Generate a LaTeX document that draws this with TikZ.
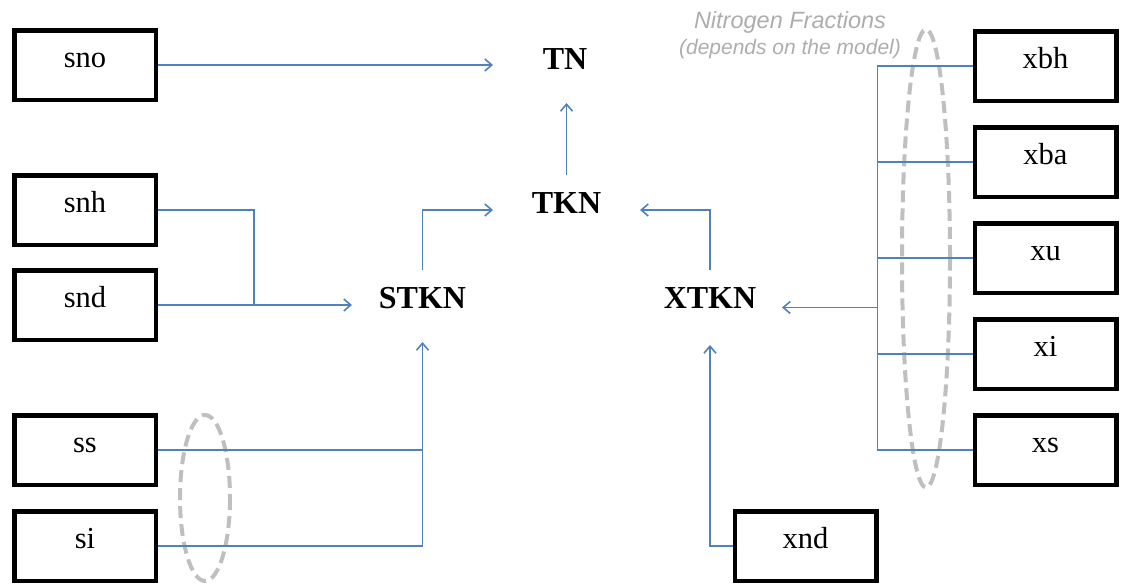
\documentclass[tikz,border=0pt]{standalone}
\usepackage{fontspec}
\setmainfont{Liberation Serif}
\newfontfamily\notefont{Liberation Sans}
\usetikzlibrary{arrows.meta}
\definecolor{linkblue}{HTML}{4F81BD}
\definecolor{ovalgray}{HTML}{BFBFBF}
\definecolor{notegray}{HTML}{ADADAD}
\tikzset{
  box/.style={draw=black, line width=4.5pt, fill=white, inner sep=0pt,
    minimum width=141.5pt, minimum height=69.5pt,
    text height=19pt, text depth=15pt,
    font=\fontsize{30.5}{34}\selectfont},
  var/.style={inner sep=0pt, outer sep=0pt, anchor=base,
    font=\fontsize{32}{36}\selectfont\bfseries},
  conn/.style={draw=linkblue, line width=1.6pt},
  arr/.style={conn, -{Straight Barb[length=7pt,width=12pt,line width=1.6pt]}},
  oval/.style={draw=ovalgray, line width=4pt, dash pattern=on 12pt off 6pt},
  note/.style={text=notegray, inner sep=0pt, font=\notefont\itshape}
}
\begin{document}
\begin{tikzpicture}[x=1pt, y=-1pt]
\useasboundingbox (0,0) rectangle (1122,584);

% dashed ovals grouping the fractions
\draw[oval] (205,498) ellipse [x radius=25, y radius=83];
\draw[oval] (926,258.5) ellipse [x radius=24, y radius=229];

\node[note, font=\notefont\itshape\fontsize{23.5}{26}\selectfont] (nf) at (790,22) {Nitrogen Fractions};
\node[note, font=\notefont\itshape\fontsize{21}{24}\selectfont] (nfm) at (790,49) {(depends on the model)};

% soluble components
\node[box] (sno) at (85,65)  {sno};
\node[box] (snh) at (85,210) {snh};
\node[box] (snd) at (85,305) {snd};
\node[box] (ss)  at (85,450) {ss};
\node[box] (si)  at (85,546) {si};

% particulate components
\node[box] (xbh) at (1045.5,66)  {xbh};
\node[box] (xba) at (1045.5,162) {xba};
\node[box] (xu)  at (1045.5,258) {xu};
\node[box] (xi)  at (1045.5,354) {xi};
\node[box] (xs)  at (1045.5,450) {xs};
\node[box] (xnd) at (805.5,546)  {xnd};

% aggregated variables
\node[var, minimum width=144pt, text height=30pt, text depth=34pt] (TN) at (565,69) {TN};
\node[var, minimum width=147pt, text height=38pt, text depth=32pt] (TKN) at (566.5,213) {TKN};
\node[var, minimum width=141pt, text height=38pt, text depth=34pt] (STKN) at (422.5,308) {STKN};
\node[var, minimum width=144pt, text height=38pt, text depth=37pt] (XTKN) at (710,308) {XTKN};

% connectors
\draw[arr] (sno.east) -- (sno.east -| TN.west);
\draw[arr] (TKN.north) -- (TKN.north |- TN.south);
\draw[conn] (snh.east) -| ([xshift=96pt]snd.east);
\draw[arr] (snd.east) -- (snd.east -| STKN.west);
\draw[arr] (STKN.north) |- (TKN.west);
\draw[arr] (XTKN.north) |- (TKN.east);
\draw[conn] (ss.east) -- (ss.east -| STKN.south);
\draw[arr] (si.east) -| (STKN.south);
\draw[arr] (xnd.west) -| (XTKN.south);

% collecting bus on the right
\draw[conn] (xbh.west) -- ++(-95,0) |- (xs.west);
\draw[conn] (xba.west) -- ++(-95,0);
\draw[conn] (xu.west) -- ++(-95,0);
\draw[conn] (xi.west) -- ++(-95,0);
\coordinate (bus) at ([xshift=-95pt]xu.west |- XTKN.east);
\draw[arr] (bus) -- (XTKN.east);
\end{tikzpicture}
\end{document}
